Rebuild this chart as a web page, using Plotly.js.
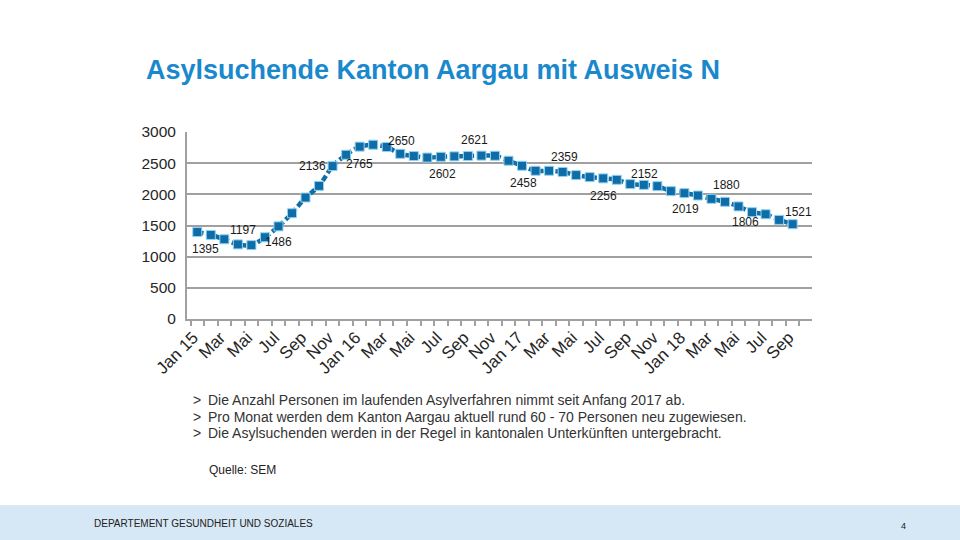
<!DOCTYPE html>
<html>
<head>
<meta charset="utf-8">
<script src="https://cdn.plot.ly/plotly-3.0.1.min.js"></script>
<style>
html,body{margin:0;padding:0;background:#fff;}
#chart{width:960px;height:540px;}
</style>
</head>
<body>
<div id="chart"></div>
<script>
// ---- data ----
const months = ['Jan 15','Feb','Mar','Apr','Mai','Jun','Jul','Aug','Sep','Okt','Nov','Dez',
                'Jan 16','Feb','Mar','Apr','Mai','Jun','Jul','Aug','Sep','Okt','Nov','Dez',
                'Jan 17','Feb','Mar','Apr','Mai','Jun','Jul','Aug','Sep','Okt','Nov','Dez',
                'Jan 18','Feb','Mar','Apr','Mai','Jun','Jul','Aug','Sep'];
const values = [1395,1349,1279,1197,1185,1311,1486,1697,1949,2136,2453,2635,
                2765,2796,2759,2650,2614,2590,2602,2609,2614,2621,2619,2539,
                2458,2378,2378,2359,2308,2276,2256,2233,2164,2152,2131,2051,
                2019,1981,1928,1880,1806,1713,1681,1590,1521];
const labelIdx = [0,3,6,9,12,15,18,21,24,27,30,33,36,39,40,44];
const titleText = 'Asylsuchende Kanton Aargau mit Ausweis N';
const bullets = [
  'Die Anzahl Personen im laufenden Asylverfahren nimmt seit Anfang 2017 ab.',
  'Pro Monat werden dem Kanton Aargau aktuell rund 60 - 70 Personen neu zugewiesen.',
  'Die Asylsuchenden werden in der Regel in kantonalen Unterkünften untergebracht.'
];
const sourceText = 'Quelle: SEM';
const footerText = 'DEPARTEMENT GESUNDHEIT UND SOZIALES';
const pageNo = '4';

// ---- styles / layout helpers ----
const labelDx = [8,5,0,-7,0,1,2,-7,1,2,0,1,1,1,7,6];
const labelDy = [17,-14,16,-20,17,-13,17,-16,17,-15,18,-11,16,-17,16,-12];
const L = 187, T = 132, W = 625, H = 187;
const fx = p => (p - L) / W;
const fy = p => (T + H - p) / H;
const FONT = 'Liberation Sans, Arial, sans-serif';

const xIdx = months.map((m, i) => i);
const tickVals = xIdx.filter(i => i % 2 === 0);
const tickText = tickVals.map(i => months[i]);

const trace = {
  x: xIdx, y: values, type: 'scatter', mode: 'lines+markers',
  line: {color: '#136ea5', width: 4.5, dash: '6px,3px', shape: 'spline', smoothing: 0.8},
  marker: {symbol: 'square', size: 9, color: '#0f6ca6', line: {color: '#8fd3f4', width: 1}},
  cliponaxis: false, hoverinfo: 'skip'
};

const annotations = labelIdx.map((i, k) => ({
  x: i, y: values[i], xref: 'x', yref: 'y', text: String(values[i]),
  showarrow: false, xshift: labelDx[k], yshift: -labelDy[k],
  font: {family: FONT, size: 12, color: '#1a1a1a'}
}));

const bulletY = [400, 416.5, 433];
bullets.forEach((b, k) => {
  annotations.push({xref: 'paper', yref: 'paper', x: fx(191), y: fy(bulletY[k]), xanchor: 'left', yanchor: 'middle',
    text: '>', showarrow: false, font: {family: FONT, size: 14, color: '#333'}});
  annotations.push({xref: 'paper', yref: 'paper', x: fx(206), y: fy(bulletY[k]), xanchor: 'left', yanchor: 'middle',
    text: b, showarrow: false, font: {family: FONT, size: 14, color: '#333'}});
});
annotations.push({xref: 'paper', yref: 'paper', x: fx(207), y: fy(470), xanchor: 'left', yanchor: 'middle',
  text: sourceText, showarrow: false, font: {family: FONT, size: 12, color: '#222'}});
annotations.push({xref: 'paper', yref: 'paper', x: fx(92), y: fy(523), xanchor: 'left', yanchor: 'middle',
  text: footerText, showarrow: false, font: {family: FONT, size: 10, color: '#222'}});
annotations.push({xref: 'paper', yref: 'paper', x: fx(908), y: fy(526), xanchor: 'right', yanchor: 'middle',
  text: pageNo, showarrow: false, font: {family: FONT, size: 9, color: '#222'}});

const layout = {
  width: 960, height: 540,
  margin: {l: L, r: 960 - L - W, t: T, b: 540 - T - H, pad: 0},
  paper_bgcolor: '#fff', plot_bgcolor: '#fff',
  showlegend: false,
  title: {text: titleText, xref: 'container', yref: 'container', x: 146/960, xanchor: 'left',
          y: 1 - 70/540, yanchor: 'middle',
          font: {family: FONT, size: 27, weight: 'bold', color: '#1a88cc'}},
  xaxis: {
    range: [-0.76, 45.43], tickvals: tickVals, ticktext: tickText, tickangle: -45,
    showgrid: false, zeroline: false, showline: true, linecolor: '#a0a0a0', linewidth: 2,
    ticks: '', ticklabelshift: -4, tickfont: {family: FONT, size: 17, color: '#262626'},
    minor: {ticks: 'outside', tick0: -0.5, dtick: 1, ticklen: 5, tickcolor: '#a0a0a0', tickwidth: 2, showgrid: false}
  },
  yaxis: {
    range: [0, 3000], dtick: 500, showgrid: true, gridcolor: '#a0a0a0', gridwidth: 2,
    zeroline: false, showline: true, linecolor: '#a0a0a0', linewidth: 2, ticks: '',
    ticklabelstandoff: 6, tickfont: {family: FONT, size: 15.5, color: '#262626'}
  },
  shapes: [{
    type: 'rect', xref: 'paper', yref: 'paper', x0: fx(0), x1: fx(960), y0: fy(540), y1: fy(505),
    fillcolor: '#d6e7f5', line: {width: 0}, layer: 'below'
  }],
  annotations: annotations
};

Plotly.newPlot('chart', [trace], layout, {staticPlot: true, displayModeBar: false});
</script>
</body>
</html>
